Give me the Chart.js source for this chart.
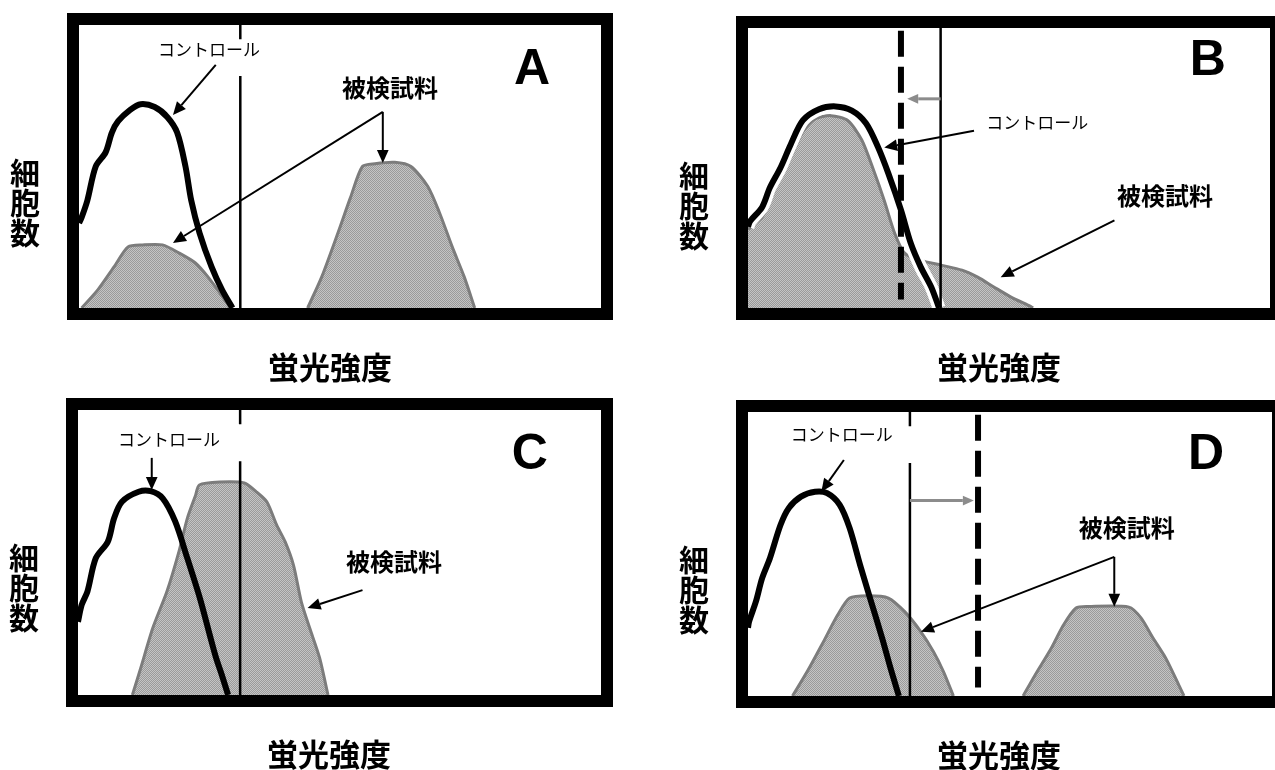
<!DOCTYPE html>
<html lang="ja">
<head>
<meta charset="utf-8">
<title>蛍光強度ヒストグラム</title>
<script src="https://cdn.jsdelivr.net/npm/chart.js@4/dist/chart.umd.min.js"></script>
<style>
  html, body { margin: 0; padding: 0; background: #fff; }
  #wrap { position: relative; width: 1275px; height: 770px; overflow: hidden; background: #fff; }
  canvas { position: absolute; }
</style>
</head>
<body>
<div id="wrap">
  <canvas id="chartA" width="637" height="385" style="left:0px;top:0px"></canvas>
  <canvas id="chartB" width="638" height="385" style="left:637px;top:0px"></canvas>
  <canvas id="chartC" width="637" height="385" style="left:0px;top:385px"></canvas>
  <canvas id="chartD" width="638" height="385" style="left:637px;top:385px"></canvas>
</div>
<script>
// Labels
const yTitle = ["細", "胞", "数"];
const xTitle = "蛍光強度";
const controlLabel = "コントロール";
const sampleLabel = "被検試料";

// Histogram shapes, [fluorescence, cell count] in 0-100 units
const controlA = [[0,30],[0.5,32],[1.6,38],[3.2,50],[5.1,55],[6.3,62],[7.5,66],[9.8,70],[11.8,72],[14.5,71],[16.9,67.5],[18.8,62],[20.4,50],[21.5,38],[23.1,26.5],[25.4,14.5],[27.4,6.4],[29.4,0]];
const sampleA1 = [[0.5,0],[3.6,6.4],[6.7,14.5],[9.4,21.6],[12.2,22.3],[16,22.3],[19.2,19.4],[22.3,15.9],[24.7,11],[27,5.3],[29,0]];
const sampleA2 = [[43.8,0],[46.5,11],[49.6,26.5],[52,39],[54.3,50],[56.7,51],[60.5,51.5],[63.6,50],[66.8,43],[69.1,33.5],[71.5,21.6],[73.8,11],[75.8,0]];

const controlB = [[0,29],[0.4,31],[2.7,36],[4.2,43],[6.2,50],[8.2,58.5],[10.5,67],[13.6,71],[16.8,72],[19.9,70.5],[22.6,66],[24.9,57.5],[26.9,48],[29.3,35],[31.2,23],[33.1,14.6],[35.1,7.5],[36.6,0]];
const sampleB = [[0,28],[0.5,29],[2.7,32.5],[4.2,38.4],[5.8,45.5],[8.2,54],[10.5,63],[12.8,67.5],[15.9,68.7],[19.1,67],[21.8,60],[24.1,49],[26.1,38.4],[28.1,26.7],[30,19.6],[33.1,17],[37,15.3],[41,13.5],[44,11],[47.1,7.5],[50.3,4],[54.2,0.5],[54.6,0]];

const controlC = [[0,25.7],[0.7,31.6],[1.8,36.3],[3.4,48],[5.7,53.8],[6.9,62],[8.4,67.8],[11.6,71.3],[13.9,71.5],[16.2,69],[18.6,60.8],[20.9,48],[23.3,34],[25.2,21],[26.4,13],[27.5,7],[28.7,0]];
const sampleC = [[10.4,0],[12,9.5],[14.3,23.5],[17,36.3],[19.3,50.3],[20.9,62],[22.5,70.2],[23.2,73.7],[27.1,74.7],[31.8,74.4],[34.1,71.3],[36.1,67.8],[38,59.6],[39.6,53.8],[41.2,45.6],[42.7,32.7],[44.3,23.5],[46.2,13],[47.8,0]];

const controlD = [[0,24],[0.2,26.2],[1.5,33.2],[2.7,41.5],[4.2,48.6],[6.2,60.2],[7.8,66.2],[10.1,70.2],[12.8,71.9],[15.1,71.4],[17.5,67.3],[19.4,59.1],[21.4,46.1],[23.3,34.4],[25.6,20.4],[27.2,9.8],[28.8,0]];
const sampleD1 = [[8.5,0],[11.3,8.6],[14.4,19.1],[17.1,28.5],[19.4,34.5],[22.9,35.3],[26.8,34.5],[29.9,29.7],[33,22.6],[35.4,15.6],[37.3,8.6],[39.2,0]];
const sampleD2 = [[52.5,0],[54.8,7.4],[57.9,16.9],[60.2,25],[62.6,31],[64.9,31.5],[72.7,31.3],[75,27.5],[77.3,20.4],[79.7,13.4],[81.6,6.3],[83.2,0]];

// Gate positions (solid = control gate, dashed = shifted gate)
const gateA = 30.9;
const gateB = 36.9;
const gateBShift = 29.3;
const gateC = 31.0;
const gateD = 30.9;
const gateDShift = 43.9;
// the solid gate line is broken near the top in A, C and D
const gateBreak = [95, 82];

// Fill pattern for the sample histograms (dithered grey like the print)
function makeGreyPattern() {
  const c = document.createElement("canvas");
  c.width = 2; c.height = 2;
  const g = c.getContext("2d");
  g.fillStyle = "#c4c4c4"; g.fillRect(0, 0, 2, 2);
  g.fillStyle = "#9a9a9a"; g.fillRect(0, 0, 1, 1); g.fillRect(1, 1, 1, 1);
  return g.createPattern(c, "repeat");
}
const greyFill = makeGreyPattern();

function pts(arr) {
  return arr.map(p => ({ x: p[0], y: p[1] }));
}

function controlSet(arr) {
  return { data: pts(arr), borderColor: "#000", borderWidth: 6, fill: false, tension: 0.3, order: 1 };
}

function sampleSet(arr) {
  return { data: pts(arr), borderColor: "#7c7c7c", borderWidth: 3, backgroundColor: greyFill, fill: "origin", tension: 0.25, order: 5 };
}

function gateSet(x, broken) {
  let data;
  if (broken) {
    data = [{ x: x, y: 100 }, { x: x, y: gateBreak[0] }, { x: x, y: null }, { x: x, y: gateBreak[1] }, { x: x, y: 0 }];
  } else {
    data = [{ x: x, y: 100 }, { x: x, y: 0 }];
  }
  return { data: data, borderColor: "#000", borderWidth: 2.5, fill: false, spanGaps: false, order: 0 };
}

function dashedGateSet(x) {
  return { data: [{ x: x, y: 99 }, { x: x, y: 3 }], borderColor: "#000", borderWidth: 6, borderDash: [26, 10], fill: false, order: 0 };
}

// Arrow helper
function drawArrow(ctx, x1, y1, x2, y2, color, width, head) {
  const ang = Math.atan2(y2 - y1, x2 - x1);
  const bx = x2 - head * Math.cos(ang);
  const by = y2 - head * Math.sin(ang);
  ctx.save();
  ctx.strokeStyle = color;
  ctx.lineWidth = width;
  ctx.beginPath();
  ctx.moveTo(x1, y1);
  ctx.lineTo(bx, by);
  ctx.stroke();
  ctx.fillStyle = color;
  ctx.beginPath();
  ctx.moveTo(x2, y2);
  ctx.lineTo(bx + head * 0.45 * Math.sin(ang), by - head * 0.45 * Math.cos(ang));
  ctx.lineTo(bx - head * 0.45 * Math.sin(ang), by + head * 0.45 * Math.cos(ang));
  ctx.closePath();
  ctx.fill();
  ctx.restore();
}

// Plugin that draws the frame, titles, panel letter and annotations
function decoPlugin(deco) {
  return {
    id: "deco",
    afterDatasetsDraw(chart) {
      const ctx = chart.ctx;
      const sx = chart.scales.x, sy = chart.scales.y;
      const px = v => sx.getPixelForValue(v);
      const py = v => sy.getPixelForValue(v);

      deco.arrows.forEach(a => {
        drawArrow(ctx, px(a.from[0]), py(a.from[1]), px(a.to[0]), py(a.to[1]),
          a.color || "#000", a.width || 2, a.head || 13);
      });

      ctx.save();
      ctx.textAlign = "center";
      ctx.textBaseline = "middle";
      ctx.fillStyle = "#000";
      deco.texts.forEach(t => {
        ctx.font = t.font;
        ctx.fillText(t.text, px(t.x), py(t.y));
      });
      ctx.restore();
    },
    afterDraw(chart) {
      const ctx = chart.ctx;
      const area = chart.chartArea;
      ctx.save();
      // thick frame
      ctx.strokeStyle = "#000";
      ctx.lineWidth = 12;
      ctx.strokeRect(area.left - 6, area.top - 6, area.right - area.left + 12, area.bottom - area.top + 12);

      ctx.fillStyle = "#000";
      ctx.textAlign = "center";
      ctx.textBaseline = "middle";
      // y title, stacked characters
      ctx.font = "bold 30px 'Noto Sans CJK JP'";
      yTitle.forEach((ch, i) => {
        ctx.fillText(ch, area.left - 54, area.top + 148 + i * 30);
      });
      // x title
      ctx.font = "bold 31px 'Noto Sans CJK JP'";
      ctx.fillText(xTitle, area.left + 251, area.bottom + 59);
      ctx.restore();
    }
  };
}

const ctrlFont = "17px 'Noto Sans CJK JP'";
const sampFont = "bold 24px 'Noto Sans CJK JP'";
const letterFont = "bold 50px 'Liberation Sans', Arial, sans-serif";

function makePanel(id, padding, datasets, deco) {
  return new Chart(document.getElementById(id), {
    type: "line",
    data: { datasets: datasets },
    options: {
      responsive: false,
      animation: false,
      events: [],
      layout: { padding: padding },
      elements: { point: { radius: 0 } },
      scales: {
        x: { type: "linear", min: 0, max: 100, display: false },
        y: { type: "linear", min: 0, max: 100, display: false }
      },
      plugins: { legend: { display: false }, tooltip: { enabled: false } }
    },
    plugins: [decoPlugin(deco)]
  });
}

// Panel A
makePanel("chartA", { left: 79, top: 25, right: 36, bottom: 77 },
  [controlSet(controlA), gateSet(gateA, true), sampleSet(sampleA1), sampleSet(sampleA2)],
  {
    arrows: [
      { from: [26.2, 85.9], to: [18.0, 68.2] },
      { from: [58.2, 69.3], to: [58.2, 51.2] },
      { from: [58.2, 69.3], to: [18.0, 23.0] }
    ],
    texts: [
      { text: controlLabel, x: 24.9, y: 91.2, font: ctrlFont },
      { text: sampleLabel, x: 59.6, y: 77.7, font: sampFont },
      { text: "A", x: 86.8, y: 84.1, font: letterFont }
    ]
  });

// Panel B
const haloB = { data: pts(controlB), borderColor: "#fff", borderWidth: 13, fill: false, tension: 0.3, order: 2 };
makePanel("chartB", { left: 111, top: 28, right: 5, bottom: 77 },
  [controlSet(controlB), haloB, gateSet(gateB, false), dashedGateSet(gateBShift), sampleSet(sampleB)],
  {
    arrows: [
      { from: [gateB, 74.7], to: [gateBShift + 1.2, 74.7], color: "#8c8c8c", width: 3, head: 11 },
      { from: [43.3, 63.3], to: [26.1, 57.3] },
      { from: [70.2, 31.3], to: [48.4, 11.0] }
    ],
    texts: [
      { text: controlLabel, x: 55.4, y: 66.2, font: ctrlFont },
      { text: sampleLabel, x: 79.9, y: 40.2, font: sampFont },
      { text: "B", x: 88.1, y: 88.3, font: letterFont }
    ]
  });

// Panel C
makePanel("chartC", { left: 78, top: 25, right: 36, bottom: 75 },
  [controlSet(controlC), gateSet(gateC, true), sampleSet(sampleC)],
  {
    arrows: [
      { from: [14.1, 83.2], to: [14.1, 71.9] },
      { from: [54.4, 36.8], to: [43.9, 30.5] }
    ],
    texts: [
      { text: controlLabel, x: 17.4, y: 89.6, font: ctrlFont },
      { text: sampleLabel, x: 60.4, y: 46.7, font: sampFont },
      { text: "C", x: 86.4, y: 84.2, font: letterFont }
    ]
  });

// Panel D
makePanel("chartD", { left: 111, top: 27, right: 3, bottom: 74 },
  [controlSet(controlD), gateSet(gateD, true), dashedGateSet(gateDShift), sampleSet(sampleD1), sampleSet(sampleD2)],
  {
    arrows: [
      { from: [gateD, 68.8], to: [gateDShift - 0.8, 68.8], color: "#8c8c8c", width: 3, head: 11 },
      { from: [18.3, 83.1], to: [14.0, 71.9] },
      { from: [69.9, 49.0], to: [69.9, 31.4] },
      { from: [69.9, 49.0], to: [33.0, 22.6] }
    ],
    texts: [
      { text: controlLabel, x: 17.9, y: 91.9, font: ctrlFont },
      { text: sampleLabel, x: 72.3, y: 59.2, font: sampFont },
      { text: "D", x: 87.4, y: 84.9, font: letterFont }
    ]
  });
</script>
</body>
</html>
